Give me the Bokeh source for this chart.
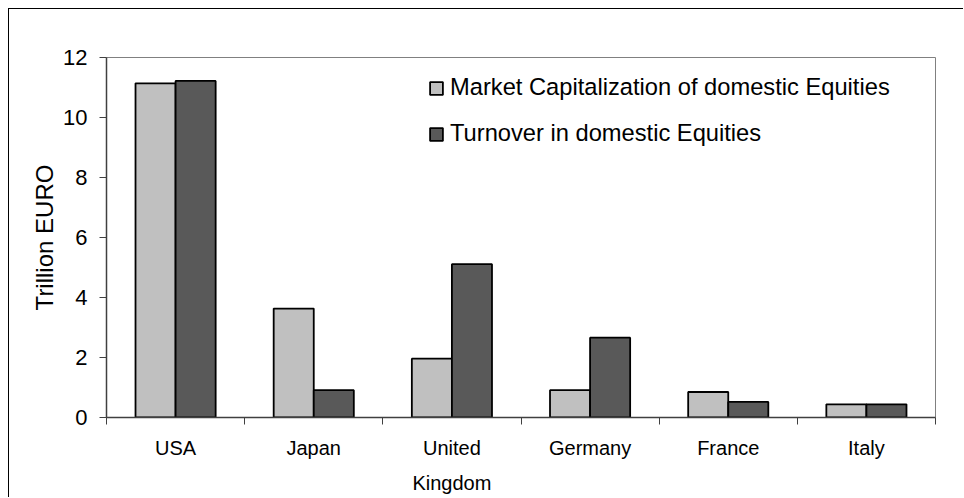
from bokeh.plotting import figure
from bokeh.models import Range1d, FixedTicker, ColumnDataSource
from bokeh.embed import file_html
from bokeh.resources import INLINE

# ---- data ----
categories = ["USA", "Japan", "United Kingdom", "Germany", "France", "Italy"]
tick_labels = ["USA", "Japan", "United\nKingdom", "Germany", "France", "Italy"]
market_cap = [11.14, 3.63, 1.96, 0.91, 0.85, 0.44]
turnover = [11.22, 0.91, 5.11, 2.66, 0.52, 0.44]
series_names = ["Market Capitalization of domestic Equities", "Turnover in domestic Equities"]
y_ticks = [0, 2, 4, 6, 8, 10, 12]
y_title = "Trillion EURO"

FONT = "Liberation Sans"
bar_w = 0.29
n = len(categories)
centers = [i + 0.5 for i in range(n)]

src = ColumnDataSource(dict(
    cat=categories,
    x1=[c - bar_w / 2 for c in centers],
    x2=[c + bar_w / 2 for c in centers],
    mc=market_cap,
    to=turnover,
))

p = figure(width=955, height=489, output_backend="svg", toolbar_location=None,
           x_range=Range1d(0, n), y_range=Range1d(0, 12),
           min_border_left=97, min_border_top=48, min_border_right=29, min_border_bottom=81)
p.styles = {"margin-left": "8px", "margin-top": "8px",
            "border-top": "1px solid black", "border-left": "1px solid black"}

p.vbar(x="x1", top="mc", width=bar_w, bottom=0, source=src, fill_color="#C0C0C0",
       line_color="black", line_width=1.8, legend_label=series_names[0])
p.vbar(x="x2", top="to", width=bar_w, bottom=0, source=src, fill_color="#595959",
       line_color="black", line_width=1.8, legend_label=series_names[1])

p.xgrid.visible = False
p.ygrid.visible = False
p.outline_line_color = "#808080"
p.outline_line_width = 1
p.background_fill_color = "white"
p.border_fill_color = "white"

# x axis
xa = p.xaxis[0]
xa.ticker = FixedTicker(ticks=centers, minor_ticks=list(range(n + 1)))
xa.major_label_overrides = {c: lab for c, lab in zip(centers, tick_labels)}
xa.major_tick_line_color = None
xa.major_tick_out = 0
xa.major_tick_in = 0
xa.minor_tick_out = 7
xa.minor_tick_in = 0
xa.minor_tick_line_color = "#404040"
xa.axis_line_color = "#404040"
xa.axis_line_width = 1.5
xa.major_label_text_font = FONT
xa.major_label_text_font_size = "20px"
xa.major_label_text_color = "black"
xa.major_label_standoff = 12
xa.major_label_text_line_height = 1.6

# y axis
ya = p.yaxis[0]
ya.ticker = FixedTicker(ticks=y_ticks)
ya.minor_tick_line_color = None
ya.major_tick_out = 7
ya.major_tick_in = 0
ya.major_tick_line_color = "#404040"
ya.axis_line_color = "#404040"
ya.axis_line_width = 1.5
ya.major_label_text_font = FONT
ya.major_label_text_font_size = "22px"
ya.major_label_text_color = "black"
ya.major_label_standoff = 12
ya.axis_label = y_title
ya.axis_label_text_font = FONT
ya.axis_label_text_font_size = "24px"
ya.axis_label_text_font_style = "normal"
ya.axis_label_text_color = "black"
ya.axis_label_standoff = 2

# legend
lg = p.legend[0]
lg.location = (322, 270)
lg.padding = 0
lg.margin = 0
lg.spacing = 19
lg.glyph_width = 16
lg.glyph_height = 16
lg.label_standoff = 6
lg.label_text_font = FONT
lg.label_text_font_size = "23.7px"
lg.label_text_color = "black"
lg.border_line_color = None
lg.background_fill_alpha = 0

open("out.html", "w").write(file_html(p, INLINE))
